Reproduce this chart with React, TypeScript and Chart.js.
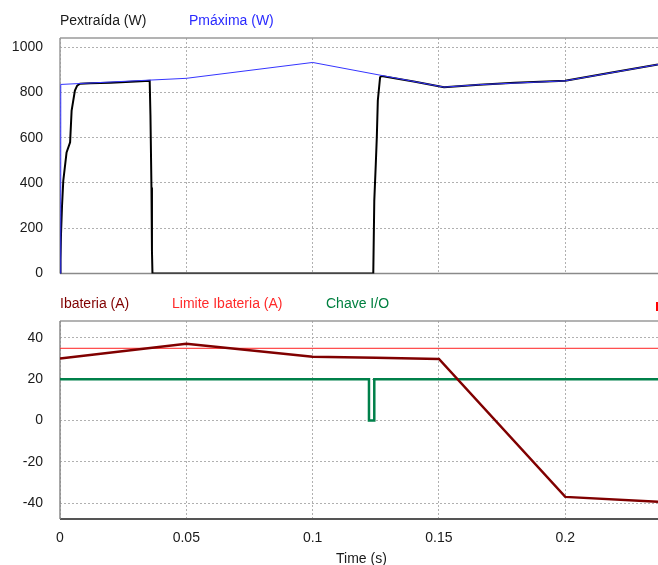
import React, { useEffect, useRef } from 'react';
import { Chart, registerables } from 'chart.js';

Chart.register(...registerables);

// ---- data ----
const X_MIN = 0;
const X_MAX = 0.2367;
const xTickLabels = ['0', '0.05', '0.1', '0.15', '0.2'];

// Top panel
const pmaxT = [0, 0.0003, 0.05, 0.1, 0.152, 0.166, 0.2, 0.2367];
const pmaxV = [0, 835, 862, 932, 823, 834, 851, 923];

const pextT = [0, 0.0002, 0.0004, 0.0008, 0.0013, 0.0026, 0.004, 0.0046, 0.0059, 0.0068, 0.0079, 0.012, 0.02, 0.03, 0.0355, 0.0358, 0.0362, 0.0364, 0.0366, 0.124, 0.1244, 0.125, 0.1254, 0.1258, 0.1267, 0.1273, 0.14, 0.152, 0.166, 0.18, 0.2, 0.219, 0.2367];
const pextV = [0, 60, 175, 300, 410, 535, 580, 720, 808, 830, 838, 840, 843, 848, 851, 700, 380, 100, 0, 0, 322, 485, 602, 764, 867, 872, 848, 823, 834, 842, 851, 889, 923];

// Bottom panel
const ibatT = [0, 0.05, 0.1, 0.125, 0.15, 0.2, 0.2367];
const ibatV = [30, 37.2, 30.9, 30.4, 29.8, -36.9, -39.3];

const limT = [0, 0.2367];
const limV = [35, 35];

const chaveT = [0, 0.1223, 0.1223, 0.1244, 0.1244, 0.2367];
const chaveV = [20, 20, 0, 0, 20, 20];

const topYTicks = [0, 200, 400, 600, 800, 1000];
const botYTicks = [-40, -20, 0, 20, 40];

const toPts = (t: number[], v: number[]) => t.map((x, i) => ({ x, y: v[i] }));

const FONT = '"Liberation Sans", Arial, sans-serif';
const GRID = '#b0b0b0';

const framePlugin = {
  id: 'frame',
  beforeDatasetsDraw(chart: any, _args: any, opts: any) {
    const { ctx, chartArea: a } = chart;
    ctx.save();
    const line = (x1: number, y1: number, x2: number, y2: number, c: string, w: number) => {
      ctx.strokeStyle = c;
      ctx.lineWidth = w;
      ctx.setLineDash([]);
      ctx.beginPath();
      ctx.moveTo(x1, y1);
      ctx.lineTo(x2, y2);
      ctx.stroke();
    };
    line(a.left, a.top, a.right, a.top, opts.topColor, 1.5);
    line(a.left, a.bottom, a.right, a.bottom, opts.bottomColor, opts.bottomWidth);
    line(a.left, a.top, a.left, a.bottom, opts.leftColor, 1.5);
    ctx.restore();
  },
};

const xTickCb = (v: any) => {
  const s = xTickLabels.find((l) => Math.abs(parseFloat(l) - Number(v)) < 1e-9);
  return s ?? '';
};

function makeX(showTicks: boolean, height: number) {
  return {
    type: 'linear',
    min: X_MIN,
    max: X_MAX,
    ticks: {
      display: showTicks,
      stepSize: 0.05,
      includeBounds: false,
      autoSkip: false,
      maxRotation: 0,
      padding: 11,
      color: '#1a1a1a',
      font: { family: FONT, size: 14 },
      callback: xTickCb,
    },
    grid: { color: GRID, lineWidth: 1, drawTicks: false },
    border: { display: false, dash: [2, 2] },
    afterFit(scale: any) {
      scale.height = height;
    },
  };
}

function makeY(min: number, max: number, step: number, ticksArr: number[]) {
  return {
    type: 'linear',
    min,
    max,
    afterBuildTicks(scale: any) {
      scale.ticks = ticksArr.map((value) => ({ value }));
    },
    ticks: {
      stepSize: step,
      includeBounds: false,
      padding: 17,
      color: '#1a1a1a',
      font: { family: FONT, size: 14 },
      callback: (v: any) => String(v),
    },
    grid: { color: GRID, lineWidth: 1, drawTicks: false },
    border: { display: false, dash: [2, 2] },
    afterFit(scale: any) {
      scale.width = 60;
    },
  };
}

function TopChart() {
  const ref = useRef<HTMLCanvasElement>(null);
  useEffect(() => {
    const chart = new Chart(ref.current as HTMLCanvasElement, {
      type: 'line',
      data: {
        datasets: [
          {
            label: 'Pmáxima (W)',
            data: toPts(pmaxT, pmaxV),
            borderColor: '#3535ff',
            borderWidth: 1,
            pointRadius: 0,
            tension: 0,
            order: 0,
          },
          {
            label: 'Pextraída (W)',
            data: toPts(pextT, pextV),
            borderColor: '#000000',
            borderWidth: 2,
            pointRadius: 0,
            tension: 0,
            order: 1,
          },
        ],
      },
      options: {
        animation: false,
        responsive: false,
        devicePixelRatio: 1,
        parsing: false,
        layout: { padding: { top: 38, bottom: 8, left: 0, right: 0 } },
        plugins: {
          legend: { display: false },
          tooltip: { enabled: false },
          frame: { topColor: '#9a9a9a', bottomColor: '#8a8a8a', bottomWidth: 1.5, leftColor: '#9a9a9a' },
        },
        scales: {
          x: makeX(false, 0),
          y: makeY(0, 1040, 200, topYTicks),
        },
      } as any,
      plugins: [framePlugin],
    });
    return () => chart.destroy();
  }, []);
  return (
    <canvas
      ref={ref}
      width={658}
      height={299}
      style={{ position: 'absolute', left: 0, top: 0, width: 658, height: 299, display: 'block' }}
    />
  );
}

function BottomChart() {
  const ref = useRef<HTMLCanvasElement>(null);
  useEffect(() => {
    const chart = new Chart(ref.current as HTMLCanvasElement, {
      type: 'line',
      data: {
        datasets: [
          {
            label: 'Ibateria (A)',
            data: toPts(ibatT, ibatV),
            borderColor: '#800000',
            borderWidth: 2.5,
            pointRadius: 0,
            tension: 0,
            order: 0,
          },
          {
            label: 'Limite Ibateria (A)',
            data: toPts(limT, limV),
            borderColor: '#ff2020',
            borderWidth: 1,
            pointRadius: 0,
            tension: 0,
            order: 1,
          },
          {
            label: 'Chave I/O',
            data: toPts(chaveT, chaveV),
            borderColor: '#00804a',
            borderWidth: 2.5,
            pointRadius: 0,
            tension: 0,
            order: 2,
          },
        ],
      },
      options: {
        animation: false,
        responsive: false,
        devicePixelRatio: 1,
        parsing: false,
        layout: { padding: { top: 31, bottom: 0, left: 0, right: 0 } },
        plugins: {
          legend: { display: false },
          tooltip: { enabled: false },
          frame: { topColor: '#9a9a9a', bottomColor: '#555555', bottomWidth: 2, leftColor: '#8a8a8a' },
        },
        scales: {
          x: makeX(true, 46),
          y: makeY(-47.6, 48.2, 20, botYTicks),
        },
      } as any,
      plugins: [framePlugin],
    });
    return () => chart.destroy();
  }, []);
  return (
    <canvas
      ref={ref}
      width={658}
      height={275}
      style={{ position: 'absolute', left: 0, top: 290, width: 658, height: 275, display: 'block' }}
    />
  );
}

const labelStyle = (left: number, top: number, color: string): React.CSSProperties => ({
  position: 'absolute',
  left,
  top,
  color,
  fontFamily: FONT,
  fontSize: 14,
  lineHeight: '16px',
  whiteSpace: 'nowrap',
});

export default function App() {
  return (
    <div
      style={{
        position: 'fixed',
        left: 0,
        top: 0,
        width: 658,
        height: 565,
        background: '#ffffff',
        overflow: 'hidden',
      }}
    >
      <TopChart />
      <BottomChart />
      <div style={labelStyle(60, 12, '#1a1a1a')}>Pextraída (W)</div>
      <div style={labelStyle(189, 12, '#2a2aff')}>Pmáxima (W)</div>
      <div style={labelStyle(60, 295, '#800000')}>Ibateria (A)</div>
      <div style={labelStyle(172, 295, '#ff2a2a')}>Limite Ibateria (A)</div>
      <div style={labelStyle(326, 295, '#008040')}>Chave I/O</div>
      <div style={{ position: 'absolute', left: 656, top: 302, width: 2, height: 9, background: '#ff0000' }} />
      <div style={labelStyle(336, 550, '#1a1a1a')}>Time (s)</div>
    </div>
  );
}
